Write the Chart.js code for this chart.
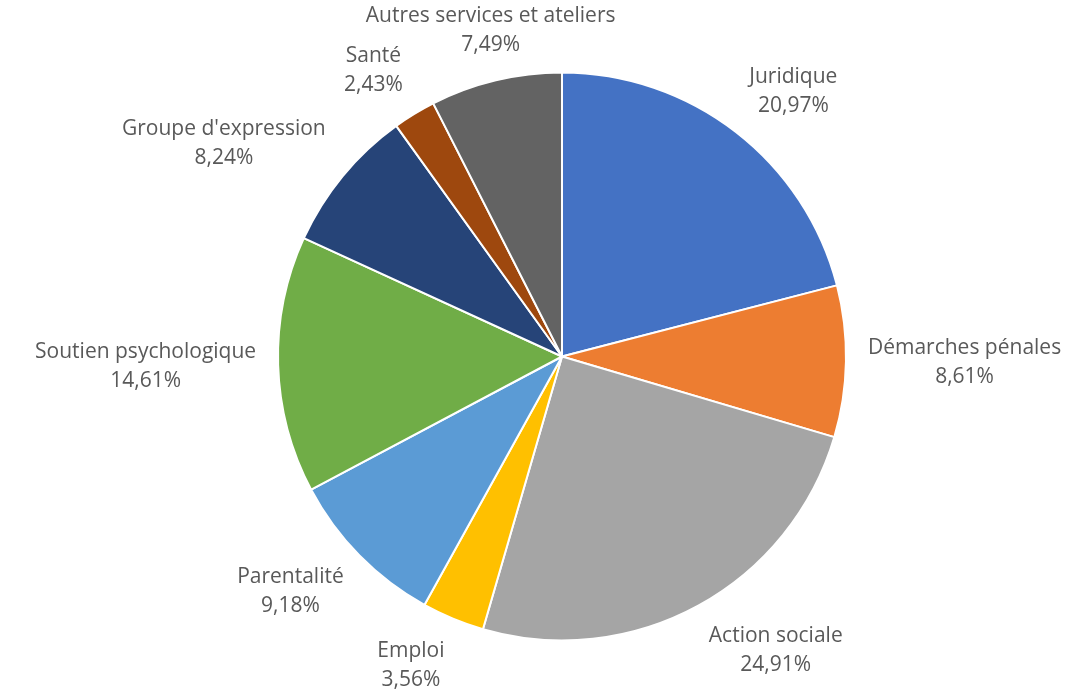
<!DOCTYPE html>
<html>
<head>
<meta charset="utf-8">
<script src="https://cdn.jsdelivr.net/npm/chart.js@4"></script>
<style>
  body { margin: 0; background: #fff; }
  #wrap { width: 1065px; height: 689px; }
</style>
</head>
<body>
<div id="wrap"><canvas id="pie" width="1065" height="689"></canvas></div>
<script>
const categories = ['Juridique', 'Démarches pénales', 'Action sociale', 'Emploi', 'Parentalité',
    'Soutien psychologique', "Groupe d'expression", 'Santé', 'Autres services et ateliers'];
const shares = [20.97, 8.61, 24.91, 3.56, 9.18, 14.61, 8.24, 2.43, 7.49];
const sliceColors = ['#4472C4', '#ED7D31', '#A5A5A5', '#FFC000', '#5B9BD5',
    '#70AD47', '#264478', '#9E480E', '#636363'];

const labelFont = '21px "Open Sans"';
const lineHeight = 29;

// Outside labels: name on first line, percentage below.
// Labels beside the pie hang off the anchor point, ones near the top/bottom stay centred on it.
const outsideLabels = {
    id: 'outsideLabels',
    afterDatasetsDraw(chart) {
        const ctx = chart.ctx;
        const meta = chart.getDatasetMeta(0);
        ctx.save();
        ctx.font = labelFont;
        ctx.fillStyle = '#595959';
        ctx.textAlign = 'center';
        ctx.textBaseline = 'middle';
        meta.data.forEach((arc, i) => {
            const p = arc.getProps(['x', 'y', 'startAngle', 'endAngle', 'outerRadius'], true);
            const mid = (p.startAngle + p.endAngle) / 2;
            const ux = Math.cos(mid), uy = Math.sin(mid);
            const lines = [categories[i], shares[i].toFixed(2).replace('.', ',') + '%'];
            const w = Math.max(...lines.map(t => ctx.measureText(t).width));
            const h = lines.length * lineHeight;
            const d = p.outerRadius + 22;
            const side = Math.sign(ux) * Math.min(Math.max((Math.abs(ux) - 0.24) / 0.12, 0), 1);
            const cx = p.x + ux * d + side * w / 2;
            const cy = p.y + uy * d + uy * h / 2;
            lines.forEach((t, k) => {
                ctx.fillText(t, cx, cy - h / 2 + lineHeight * (k + 0.5));
            });
        });
        ctx.restore();
    }
};

new Chart(document.getElementById('pie'), {
    type: 'pie',
    data: {
        labels: categories,
        datasets: [{
            data: shares,
            backgroundColor: sliceColors,
            borderColor: '#ffffff',
            borderWidth: 2
        }]
    },
    options: {
        responsive: false,
        animation: false,
        layout: { padding: { left: 277, right: 218, top: 71, bottom: 47 } },
        plugins: {
            legend: { display: false },
            tooltip: { enabled: false }
        }
    },
    plugins: [outsideLabels]
});
</script>
</body>
</html>
